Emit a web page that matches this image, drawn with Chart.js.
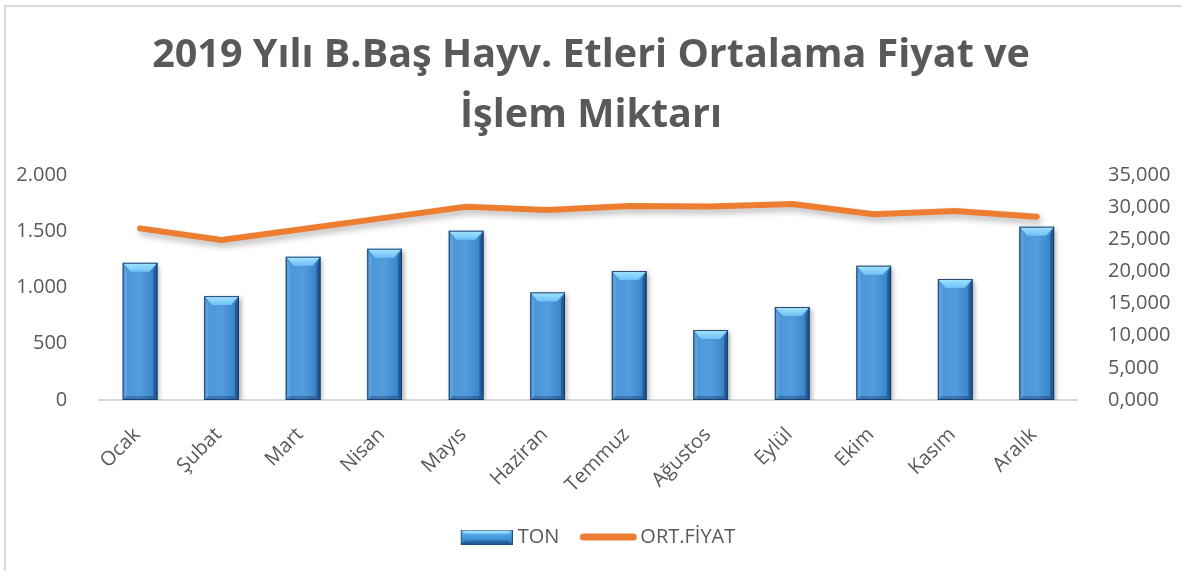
<!DOCTYPE html>
<html lang="tr">
<head>
<meta charset="utf-8">
<title>2019 Yılı B.Baş Hayv. Etleri Ortalama Fiyat ve İşlem Miktarı</title>
<script src="https://cdn.jsdelivr.net/npm/chart.js@4.4.1/dist/chart.umd.min.js"></script>
<style>
  html, body { margin: 0; padding: 0; background: #ffffff; }
  #wrap { position: relative; width: 1182px; height: 571px; overflow: hidden; }
  #frame { position: absolute; left: 4px; top: 5px; width: 1200px; height: 600px;
           border-left: 2px solid #d9d9d9; border-top: 2px solid #d9d9d9; pointer-events: none; }
  canvas { position: absolute; left: 0; top: 0; }
</style>
</head>
<body>
<div id="wrap">
  <canvas id="chart" width="1182" height="571"></canvas>
  <div id="frame"></div>
</div>
<script>
// Aylar
const months = ['Ocak', 'Şubat', 'Mart', 'Nisan', 'Mayıs', 'Haziran',
                'Temmuz', 'Ağustos', 'Eylül', 'Ekim', 'Kasım', 'Aralık'];
// İşlem miktarı (ton)
const tonValues = [1220, 924, 1274, 1345, 1505, 957, 1147, 622, 827, 1194, 1076, 1541];
// Ortalama fiyat (TL/kg)
const priceValues = [26.71, 24.89, 26.60, 28.34, 30.07, 29.56, 30.18, 30.10, 30.49, 28.89, 29.40, 28.52];
// Eksen ölçekleri
const tonTicks = [0, 500, 1000, 1500, 2000];
const priceTicks = [0, 5, 10, 15, 20, 25, 30, 35];

const TEXT = '#595959';
const ORANGE = '#ed7d31';
const FONT = "'Open Sans', 'Liberation Sans', sans-serif";

function fmtThousands(v) {
  return String(Math.round(v)).replace(/\B(?=(\d{3})+(?!\d))/g, '.');
}
function fmtPrice(v) {
  return v.toFixed(3).replace('.', ',');
}

// Lejant simgeleri (simge, yazıya yakın duracak şekilde sağa yaslı çizilir)
function makeBarSwatch() {
  const c = document.createElement('canvas');
  c.width = 71; c.height = 15;
  const g = c.getContext('2d');
  g.translate(19, 0);
  const body = g.createLinearGradient(0, 0, 0, 15);
  body.addColorStop(0, '#8fd8fb');
  body.addColorStop(0.35, '#4fa6e6');
  body.addColorStop(1, '#2f78c0');
  g.fillStyle = body;
  g.fillRect(0, 0, 52, 15);
  g.fillStyle = 'rgba(170,230,255,0.75)';
  g.beginPath(); g.moveTo(0, 0); g.lineTo(52, 0); g.lineTo(47, 4); g.lineTo(5, 4); g.closePath(); g.fill();
  g.fillStyle = 'rgba(20,60,110,0.45)';
  g.beginPath(); g.moveTo(0, 15); g.lineTo(52, 15); g.lineTo(47, 11); g.lineTo(5, 11); g.closePath(); g.fill();
  g.strokeStyle = '#1f4e80'; g.lineWidth = 1;
  g.strokeRect(0.5, 0.5, 51, 14);
  return c;
}
function makeLineSwatch() {
  const c = document.createElement('canvas');
  c.width = 75; c.height = 8;
  const g = c.getContext('2d');
  g.translate(17, 0);
  g.strokeStyle = ORANGE; g.lineWidth = 7; g.lineCap = 'round';
  g.beginPath(); g.moveTo(4, 4); g.lineTo(54, 4); g.stroke();
  return c;
}
const legendIcons = [makeBarSwatch(), makeLineSwatch()];

// Sütunlara eğim ve kabartma efekti, çizgiye gölge
const bevelBars = {
  id: 'bevelBars',
  beforeDatasetDraw(chart, args) {
    const ctx = chart.ctx;
    ctx.save();
    if (args.meta.type === 'bar') {
      ctx.shadowColor = 'rgba(0,0,0,0.35)';
      ctx.shadowBlur = 5; ctx.shadowOffsetX = 2; ctx.shadowOffsetY = 2;
    } else {
      ctx.shadowColor = 'rgba(0,0,0,0.28)';
      ctx.shadowBlur = 6; ctx.shadowOffsetX = 2; ctx.shadowOffsetY = 4;
    }
  },
  afterDatasetDraw(chart, args) {
    const ctx = chart.ctx;
    ctx.restore();
    if (args.meta.type !== 'bar') return;
    ctx.save();
    args.meta.data.forEach(bar => {
      const { x, y, base, width } = bar.getProps(['x', 'y', 'base', 'width'], true);
      const l = x - width / 2, r = x + width / 2, t = y, b = base;
      const h = b - t;
      // yatay ton geçişi
      const hg = ctx.createLinearGradient(l, 0, r, 0);
      hg.addColorStop(0, 'rgba(20,70,130,0.35)');
      hg.addColorStop(0.15, 'rgba(255,255,255,0.06)');
      hg.addColorStop(0.5, 'rgba(255,255,255,0.10)');
      hg.addColorStop(0.85, 'rgba(10,50,100,0.10)');
      hg.addColorStop(1, 'rgba(10,40,90,0.50)');
      ctx.fillStyle = hg;
      ctx.fillRect(l, t, width, h);
      const d = Math.min(9, h / 3);
      const s = 4;
      // üst kabartma
      const tg = ctx.createLinearGradient(0, t, 0, t + d);
      tg.addColorStop(0, '#a6e4ff');
      tg.addColorStop(1, '#6cc2f4');
      ctx.fillStyle = tg;
      ctx.beginPath();
      ctx.moveTo(l, t); ctx.lineTo(r, t); ctx.lineTo(r - s - 4, t + d); ctx.lineTo(l + s + 4, t + d); ctx.closePath();
      ctx.fill();
      // sol kenar
      ctx.fillStyle = 'rgba(120,190,240,0.35)';
      ctx.beginPath();
      ctx.moveTo(l, t); ctx.lineTo(l + s, t + d); ctx.lineTo(l + s, b - s); ctx.lineTo(l, b); ctx.closePath();
      ctx.fill();
      // sağ kenar
      ctx.fillStyle = 'rgba(15,50,95,0.35)';
      ctx.beginPath();
      ctx.moveTo(r, t); ctx.lineTo(r - s, t + d); ctx.lineTo(r - s, b - s); ctx.lineTo(r, b); ctx.closePath();
      ctx.fill();
      // alt kenar
      ctx.fillStyle = 'rgba(15,50,95,0.35)';
      ctx.beginPath();
      ctx.moveTo(l, b); ctx.lineTo(r, b); ctx.lineTo(r - s, b - s); ctx.lineTo(l + s, b - s); ctx.closePath();
      ctx.fill();
      // dış çizgi
      ctx.strokeStyle = 'rgba(25,60,105,0.9)';
      ctx.lineWidth = 1;
      ctx.strokeRect(l + 0.5, t + 0.5, width - 1, h - 1);
    });
    ctx.restore();
  }
};

new Chart(document.getElementById('chart'), {
  data: {
    labels: months,
    datasets: [
      {
        type: 'bar',
        label: 'TON',
        data: tonValues,
        yAxisID: 'yTon',
        backgroundColor: '#4191d8',
        borderWidth: 0,
        barPercentage: 0.426,
        categoryPercentage: 1,
        order: 2
      },
      {
        type: 'line',
        label: 'ORT.FİYAT',
        data: priceValues,
        yAxisID: 'yPrice',
        borderColor: ORANGE,
        backgroundColor: ORANGE,
        borderWidth: 6,
        borderCapStyle: 'round',
        borderJoinStyle: 'round',
        pointRadius: 0,
        pointHoverRadius: 0,
        tension: 0,
        order: 1
      }
    ]
  },
  options: {
    responsive: false,
    animation: false,
    events: [],
    layout: { padding: { left: 0, right: 0, top: 0, bottom: 14 } },
    plugins: {
      title: {
        display: true,
        text: ['2019 Yılı B.Baş Hayv. Etleri Ortalama Fiyat ve', 'İşlem Miktarı'],
        color: TEXT,
        font: { family: FONT, size: 39.5, weight: 'bold', lineHeight: 1.52 },
        padding: { top: 26, bottom: 29 }
      },
      legend: {
        position: 'bottom',
        labels: {
          color: TEXT,
          font: { family: FONT, size: 20 },
          usePointStyle: true,
          pointStyleWidth: 61,
          padding: 10,
          generateLabels(ch) {
            const items = Chart.defaults.plugins.legend.labels.generateLabels(ch);
            items.sort((a, b) => a.datasetIndex - b.datasetIndex);
            items.forEach(it => { it.pointStyle = legendIcons[it.datasetIndex]; });
            return items;
          }
        }
      },
      tooltip: { enabled: false }
    },
    scales: {
      x: {
        grid: { display: false },
        border: { display: true, color: '#d9d9d9', width: 2 },
        ticks: {
          color: TEXT,
          font: { family: FONT, size: 20 },
          maxRotation: 45,
          minRotation: 45,
          padding: 15,
          labelOffset: -3,
          autoSkip: false
        },
        afterFit(s) { s.height = 117; }
      },
      yTon: {
        type: 'linear',
        position: 'left',
        min: 0,
        max: 2000,
        grid: { display: false },
        border: { display: false },
        afterBuildTicks(s) { s.ticks = tonTicks.map(v => ({ value: v })); },
        ticks: {
          color: TEXT,
          font: { family: FONT, size: 20 },
          padding: 24,
          callback: v => fmtThousands(v)
        },
        afterFit(s) { s.width = 99.3; }
      },
      yPrice: {
        type: 'linear',
        position: 'right',
        min: 0,
        max: 35,
        grid: { display: false },
        border: { display: false },
        afterBuildTicks(s) { s.ticks = priceTicks.map(v => ({ value: v })); },
        ticks: {
          color: TEXT,
          font: { family: FONT, size: 20 },
          padding: 22.5,
          callback: v => fmtPrice(v)
        },
        afterFit(s) { s.width = 104.5; }
      }
    }
  },
  plugins: [bevelBars]
});
</script>
</body>
</html>
